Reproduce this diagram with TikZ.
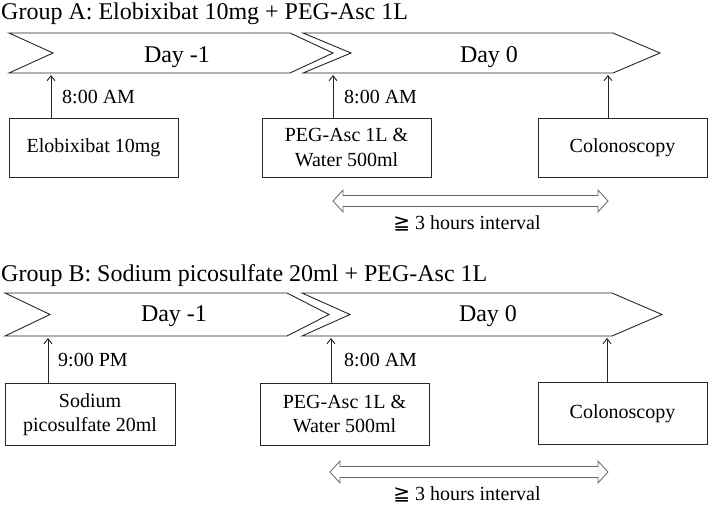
\documentclass[tikz,border=0pt]{standalone}
\usepackage{fontspec}
\setmainfont{Liberation Serif}
\newfontfamily\symfont{DejaVu Sans}
\usetikzlibrary{shapes.arrows,arrows.meta}
\begin{document}
\begin{tikzpicture}[x=1pt,y=-1pt,
  chev/.style={draw=black!85,line width=0.9pt,line join=miter},
  pbox/.style={draw=black!85,line width=0.9pt,minimum width=169pt,inner sep=0pt,
    align=center,font=\fontsize{20}{24.5}\selectfont},
  lbl/.style={font=\fontsize{20}{24}\selectfont,inner sep=0pt},
  ttl/.style={font=\fontsize{24}{28}\selectfont,inner sep=0pt},
  uparr/.style={draw=black!85,line width=0.9pt,-{Straight Barb[length=5pt,width=8pt]}},
  interval/.style={draw=black!60,line width=0.8pt,shape=double arrow,
    double arrow head extend=5.5pt,minimum width=22pt,double arrow tip angle=95,
    inner sep=0pt,text height=5pt,text depth=5pt},
]
\useasboundingbox (0,0) rectangle (709,504);

% ---------- Group A ----------
\node[ttl,anchor=base west] (titleA) at (1,19) {Group A: Elobixibat 10mg + PEG-Asc 1L};
\draw[chev] (9,33) -- (290,33) -- (333,53) -- (290,73) -- (9,73) -- (53,53) -- cycle;
\draw[chev] (303,33) -- (613,33) -- (660,53) -- (613,73) -- (303,73) -- (351,53) -- cycle;
\node[ttl,anchor=base] (dayA1) at (177,62) {Day -1};
\node[ttl,anchor=base] (dayA0) at (489,62) {Day 0};

\node[pbox,minimum height=59pt] (boxA1) at (93.5,147.5) {Elobixibat 10mg};
\node[pbox,minimum height=59pt] (boxA2) at (346.5,147.5) {PEG-Asc 1L \&\\Water 500ml};
\node[pbox,minimum height=59pt] (boxA3) at (622.5,147.5) {Colonoscopy};

\coordinate (tA1) at (51,75);
\coordinate (tA2) at (333,75);
\coordinate (tA3) at (608,75);
\draw[uparr] (boxA1.north -| tA1) -- (tA1);
\draw[uparr] (boxA2.north -| tA2) -- (tA2);
\draw[uparr] (boxA3.north -| tA3) -- (tA3);

\node[lbl,anchor=west] (timeA1) at (62,97) {8:00 AM};
\node[lbl,anchor=west] (timeA2) at (344,97) {8:00 AM};

\node[interval,minimum height=275pt] (intA) at (470.5,201) {};
\node[lbl] (intAtxt) at (467,223) {{\symfont ≧} 3 hours interval};

% ---------- Group B ----------
\node[ttl,anchor=base west] (titleB) at (1,281) {Group B: Sodium picosulfate 20ml + PEG-Asc 1L};
\draw[chev] (5,293) -- (287,293) -- (329,314.5) -- (287,336) -- (5,336) -- (50,314.5) -- cycle;
\draw[chev] (302,293) -- (612,293) -- (662,314.5) -- (612,336) -- (302,336) -- (350,314.5) -- cycle;
\node[ttl,anchor=base] (dayB1) at (174,321) {Day -1};
\node[ttl,anchor=base] (dayB0) at (488,321) {Day 0};

\node[pbox,minimum height=62pt,minimum width=170pt] (boxB1) at (90,414.5) {Sodium\\picosulfate 20ml};
\node[pbox,minimum height=62pt] (boxB2) at (344.5,414) {PEG-Asc 1L \&\\Water 500ml};
\node[pbox,minimum height=62pt] (boxB3) at (622.5,413.5) {Colonoscopy};

\coordinate (tB1) at (48,338);
\coordinate (tB2) at (331,338);
\coordinate (tB3) at (607,338);
\draw[uparr] (boxB1.north -| tB1) -- (tB1);
\draw[uparr] (boxB2.north -| tB2) -- (tB2);
\draw[uparr] (boxB3.north -| tB3) -- (tB3);

\node[lbl,anchor=west] (timeB1) at (58,360) {9:00 PM};
\node[lbl,anchor=west] (timeB2) at (344,360) {8:00 AM};

\node[interval,minimum height=278pt] (intB) at (469,472) {};
\node[lbl] (intBtxt) at (467,494) {{\symfont ≧} 3 hours interval};
\end{tikzpicture}
\end{document}
